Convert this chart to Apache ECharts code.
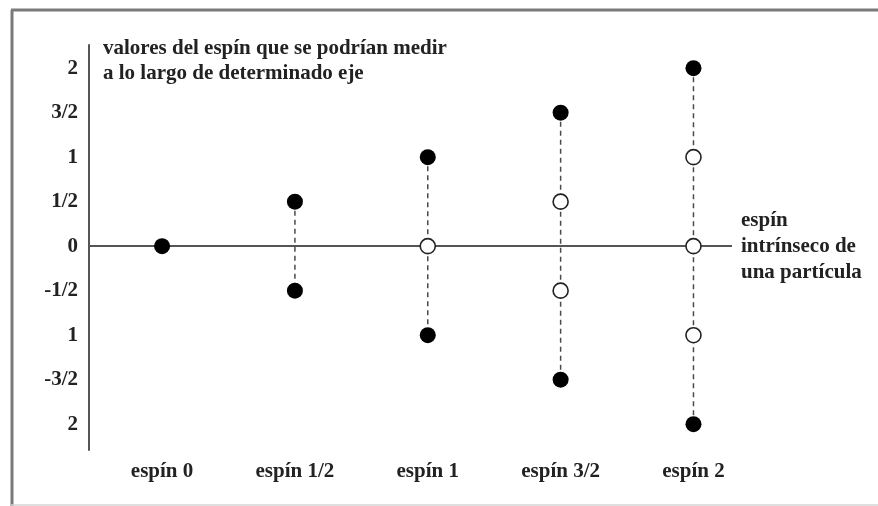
<!DOCTYPE html>
<html><head><meta charset="utf-8">
<script src="https://cdn.jsdelivr.net/npm/echarts@6/dist/echarts.min.js"></script>
<style>html,body{margin:0;padding:0;background:#fff}#c{width:878px;height:506px}</style>
</head><body><div id="c"></div>
<script>
const categories = ['espín 0', 'espín 1/2', 'espín 1', 'espín 3/2', 'espín 2'];
const filledValues = [[0], [0.5, -0.5], [1, -1], [1.5, -1.5], [2, -2]];
const openValues = [[], [], [0], [0.5, -0.5], [1, 0, -1]];
const yTickValues = [2, 1.5, 1, 0.5, 0, -0.5, -1, -1.5, -2];
const yTickLabels = ['2', '3/2', '1', '1/2', '0', '-1/2', '1', '-3/2', '2'];
const yTitle = 'valores del espín que se podrían medir\na lo largo de determinado eje';
const xTitle = 'espín\nintrínseco de\nuna partícula';

const font = 'Liberation Serif';
const txt = {fontFamily: font, fontWeight: 'bold', fontSize: 21, color: '#222'};

const filledData = [], openData = [], dashSeries = [];
categories.forEach((c, i) => {
  filledValues[i].forEach(v => filledData.push([i, v]));
  openValues[i].forEach(v => openData.push([i, v]));
  const all = filledValues[i].concat(openValues[i]);
  if (all.length > 1) {
    dashSeries.push({
      type: 'line', silent: true, symbol: 'none', z: 2,
      lineStyle: {color: '#4a4a4a', width: 1.5, type: [5, 4]},
      data: [[i, Math.max(...all)], [i, Math.min(...all)]]
    });
  }
});

const chart = echarts.init(document.getElementById('c'));
chart.setOption({
  animation: false,
  backgroundColor: '#fff',
  grid: {left: 89, right: 146, top: 45, bottom: 56},
  title: {text: yTitle, left: 98, top: 31, textStyle: Object.assign({}, txt, {lineHeight: 25})},
  graphic: [
    {type: 'line', shape: {x1: 12, y1: 10, x2: 12, y2: 506}, style: {stroke: '#7a7a7a', lineWidth: 3}},
    {type: 'line', shape: {x1: 11, y1: 10, x2: 878, y2: 10}, style: {stroke: '#7a7a7a', lineWidth: 3}},
    {type: 'line', shape: {x1: 11, y1: 505, x2: 878, y2: 505}, style: {stroke: '#d5d5d5', lineWidth: 1.5}}
  ],
  xAxis: {type: 'value', min: -0.55, max: 4.29,
    axisLine: {show: false}, axisTick: {show: false}, splitLine: {show: false},
    axisLabel: Object.assign({}, txt, {customValues: categories.map((c, i) => i), margin: 11,
      formatter: v => categories[Math.round(v)]})},
  yAxis: {type: 'value', min: -2.29, max: 2.26,
    axisLine: {show: true, onZero: false, lineStyle: {color: '#555', width: 2}},
    axisTick: {show: false}, splitLine: {show: false},
    axisLabel: Object.assign({}, txt, {customValues: yTickValues, margin: 11,
      formatter: v => yTickLabels[yTickValues.indexOf(v)]})},
  series: dashSeries.concat([
    {type: 'line', silent: true, symbol: 'none', z: 1, data: [],
     markLine: {silent: true, symbol: 'none', animation: false,
       lineStyle: {color: '#555', width: 2, type: 'solid'},
       label: Object.assign({}, txt, {show: true, position: 'end', distance: 9, align: 'left',
         lineHeight: 26, formatter: xTitle}),
       data: [{yAxis: 0}]}},
    {type: 'scatter', z: 5, symbol: 'circle', symbolSize: 16, silent: true,
     itemStyle: {color: '#000', opacity: 1}, data: filledData},
    {type: 'scatter', z: 5, symbol: 'circle', symbolSize: 15, silent: true,
     itemStyle: {color: '#fff', borderColor: '#222', borderWidth: 1.6, opacity: 1}, data: openData}
  ])
});
</script></body></html>
